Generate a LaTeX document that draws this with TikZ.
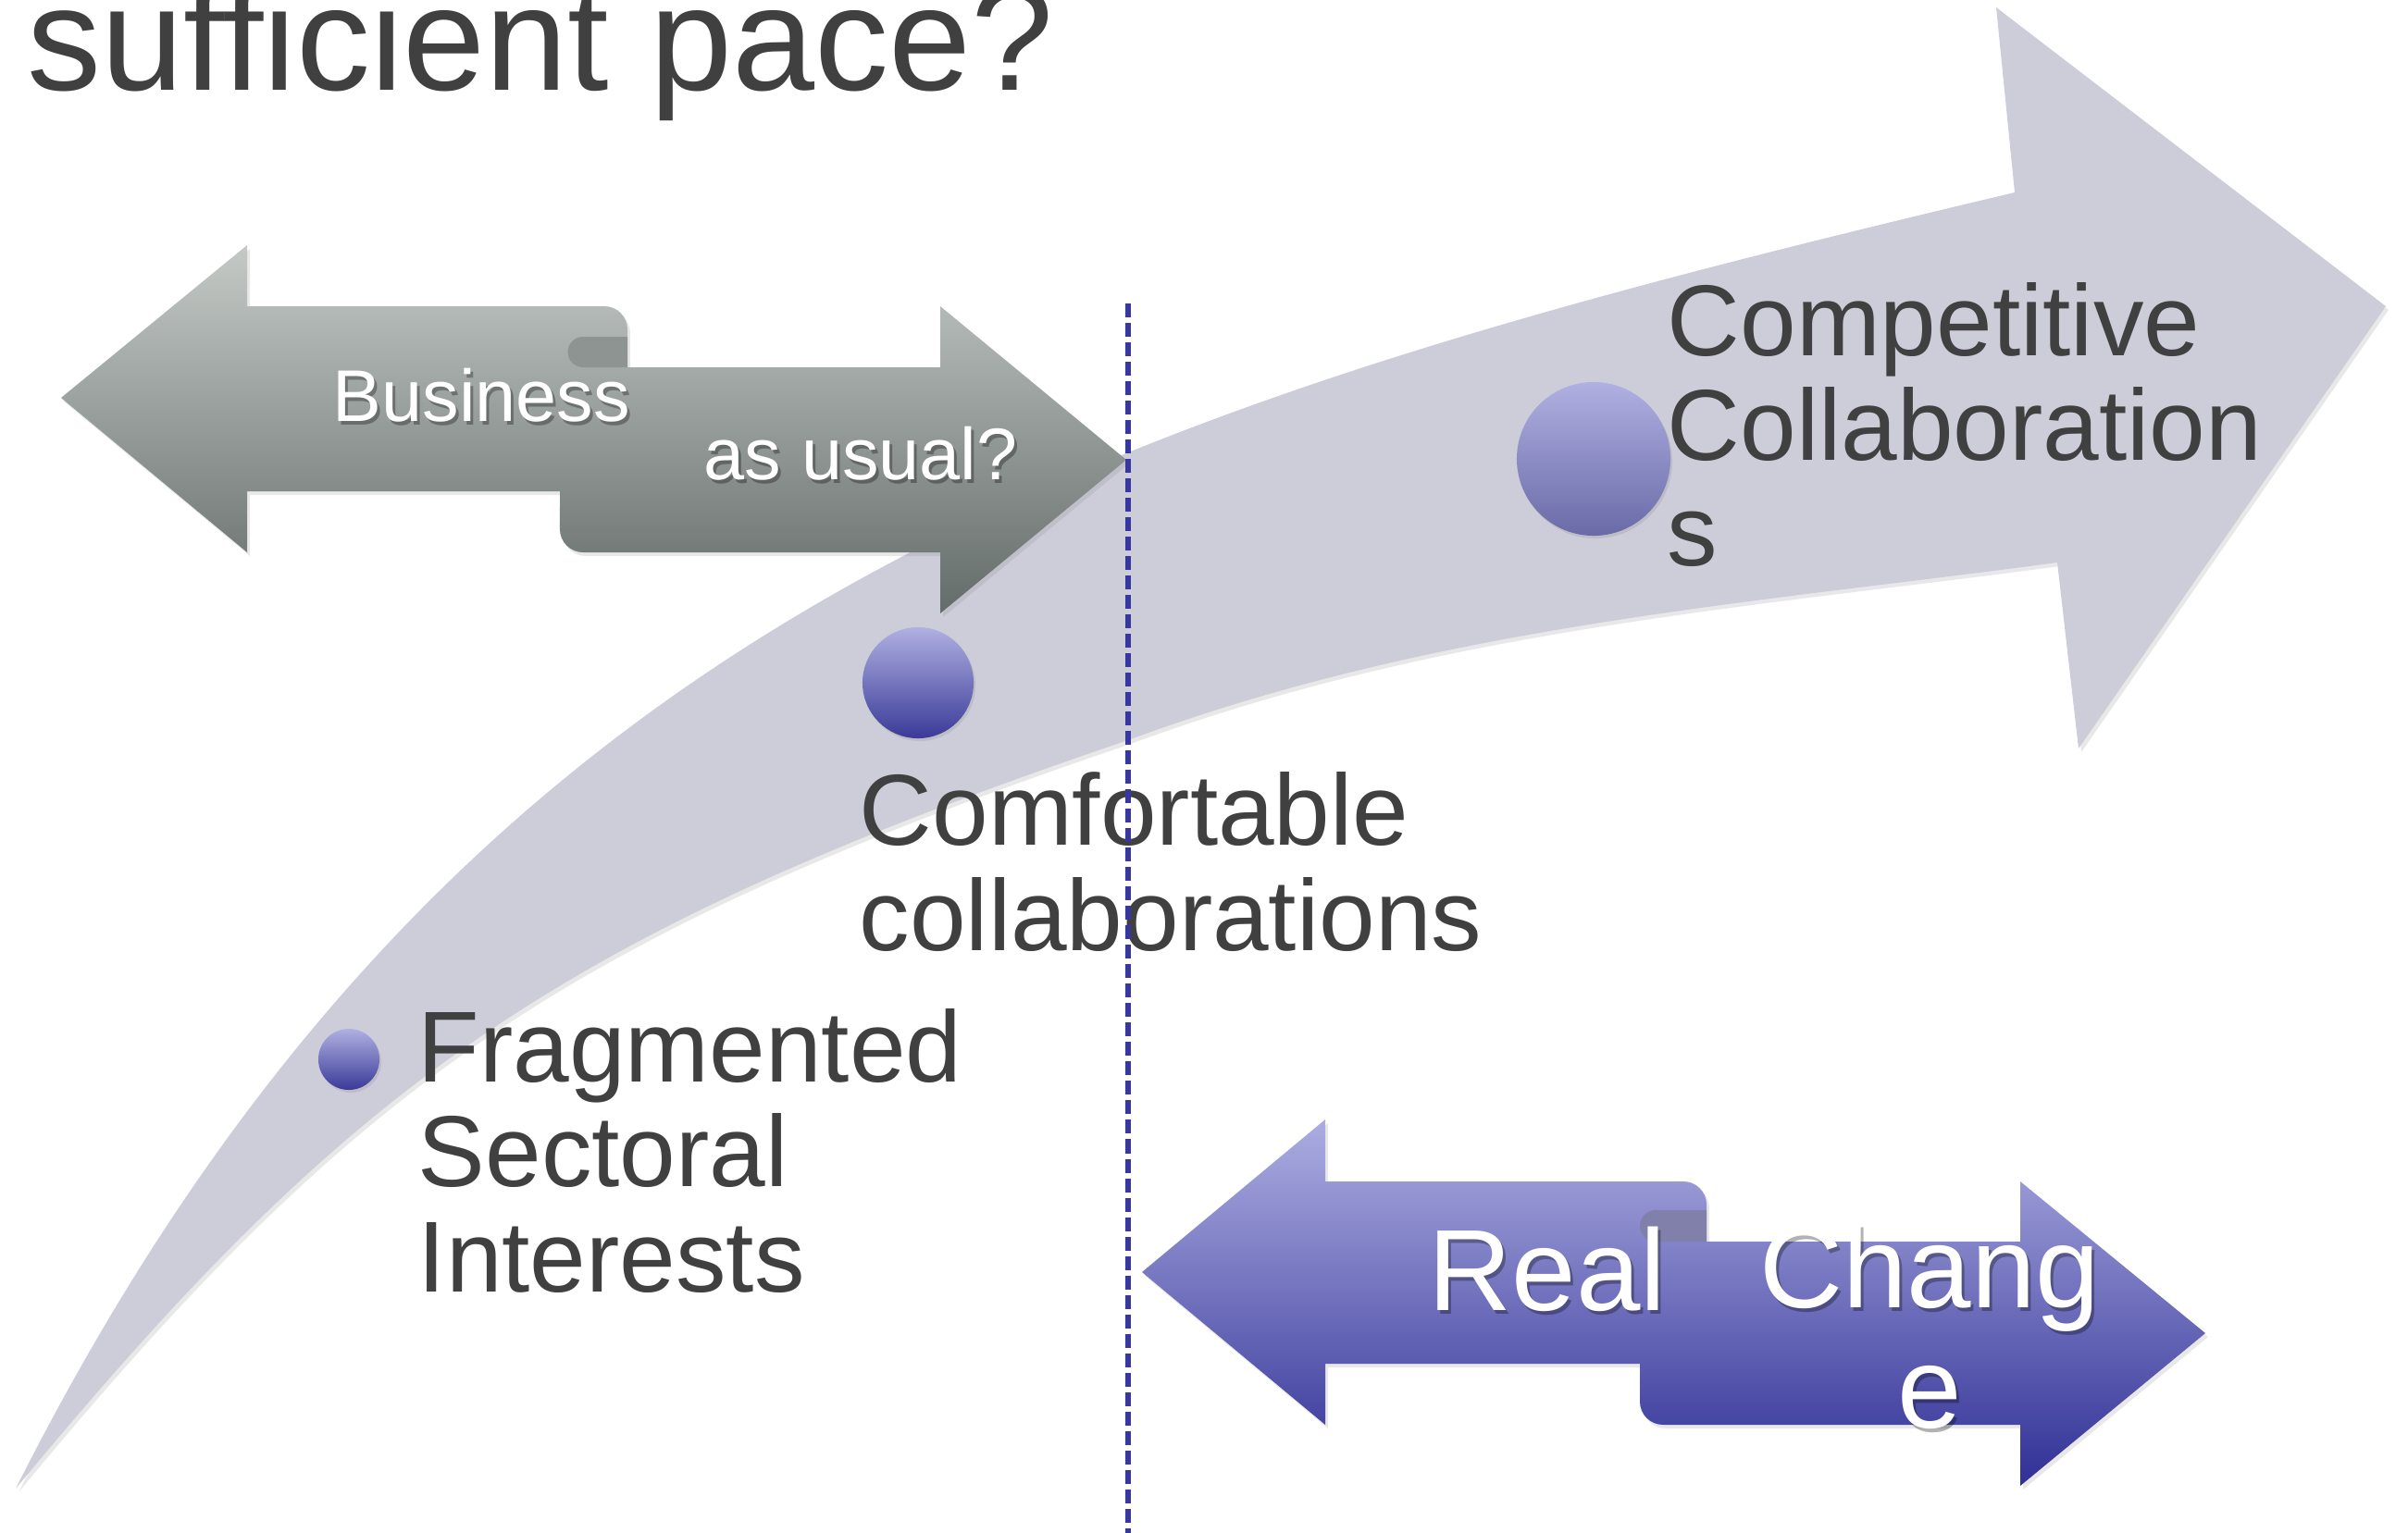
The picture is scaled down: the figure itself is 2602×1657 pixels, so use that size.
\documentclass[tikz,border=0pt]{standalone}
\usepackage{fontspec}
\setmainfont{Liberation Sans}
\usepackage{tikz}
\usetikzlibrary{shadows}

\definecolor{txtgray}{HTML}{404040}
\definecolor{bandgray}{HTML}{CDCDDA}
\definecolor{dashblue}{HTML}{3737A0}
\definecolor{graytop}{HTML}{C4C9C6}
\definecolor{graybot}{HTML}{646C6A}
\definecolor{graycurl}{HTML}{8E9491}
\definecolor{purptop}{HTML}{ADADE2}
\definecolor{purpbot}{HTML}{303096}
\definecolor{purpcurl}{HTML}{8080AA}
\definecolor{dottop}{HTML}{B0B0E2}
\definecolor{dotbot}{HTML}{3A3A98}
\definecolor{dotbotpale}{HTML}{6A6AA8}

\begin{document}
\begin{tikzpicture}[
    x=0.01cm, y=-0.01cm,
    lbl/.style={font=\fontsize{31}{32.2}\selectfont, text=txtgray, align=left, anchor=base west, inner sep=0pt},
    arrtxt/.style={text=white, anchor=base west, inner sep=0pt},
    txtshadow/.style={text=black, text opacity=0.3, xshift=0.03cm, yshift=-0.04cm},
    dot/.style={circle, inner sep=0pt, minimum size=#1, top color=dottop, bottom color=dotbot, drop shadow={opacity=0.2, shadow xshift=0.02cm, shadow yshift=-0.03cm}},
    dot/.default=1.2cm,
    soft/.style={drop shadow={opacity=0.18, shadow xshift=0.03cm, shadow yshift=-0.04cm}},
    dashline/.style={dashblue, line width=1.7pt, dash pattern=on 0.15cm off 0.06cm}
]
\useasboundingbox (0,0) rectangle (2602,1657);

% Curved band arrow
\fill[bandgray, soft] (17,1609) .. controls (500,650) and (1200,440) .. (2177,208)
    -- (2157,8) -- (2578,331) -- (2246,809) -- (2223,608)
    .. controls (1888,653) and (1554,676) .. (1219,800)
    .. controls (600,1010) and (380,1170) .. (17,1609) -- cycle;

% Business as usual arrows
\shade[top color=graytop, bottom color=graybot, soft] (66,430) -- (267,265) -- (267,331) -- (653,331)
    arc[start angle=90, end angle=0, radius=0.25cm] -- (678,397) -- (1016,397) -- (1016,331)
    -- (1217,497) -- (1016,663) -- (1016,597) -- (630,597)
    arc[start angle=270, end angle=180, radius=0.25cm] -- (605,531) -- (267,531) -- (267,597) -- cycle;
\fill[graycurl] (678,364) -- (630,364) arc[start angle=90, end angle=270, radius=0.165cm] -- (678,397) -- cycle;

% Real change arrows
\shade[top color=purptop, bottom color=purpbot, soft] (1234,1375) -- (1432,1210) -- (1432,1277) -- (1819,1277)
    arc[start angle=90, end angle=0, radius=0.25cm] -- (1844,1342) -- (2183,1342) -- (2183,1277)
    -- (2383,1441) -- (2183,1606) -- (2183,1540) -- (1797,1540)
    arc[start angle=270, end angle=180, radius=0.25cm] -- (1772,1474) -- (1432,1474) -- (1432,1540) -- cycle;
\fill[purpcurl] (1844,1308) -- (1789,1308) arc[start angle=90, end angle=270, radius=0.17cm] -- (1844,1342) -- cycle;

% Dots
\node[dot=0.66cm] (dot1) at (377,1145) {};
\node[dot=1.2cm] (dot2) at (992,738) {};
\node[dot=1.66cm, bottom color=dotbotpale] (dot3) at (1722,496) {};

% Title
\node[font=\fontsize{45.5}{54}\selectfont, text=txtgray, anchor=base west, inner sep=0pt] (title) at (29,97) {sufficient pace?};

% Labels (anchored on the last line)
\node[lbl] (frag) at (451,1396) {Fragmented\\Sectoral\\Interests};
\node[lbl] (comf) at (928,1027) {Comfortable\\collaborations};
\node[lbl] (comp) at (1801,611) {Competitive\\Collaboration\\s};

% Arrow texts, shadow first
\foreach \nm/\pos/\sz/\txt in {bus/{(359,455)}/22.5/Business, usual/{(760,518)}/22.5/as usual?, real/{(1543,1416)}/35.5/Real}{
  \node[arrtxt, txtshadow, font=\fontsize{\sz}{36.7}\selectfont] (\nm-s) at \pos {\txt};
  \node[arrtxt, font=\fontsize{\sz}{36.7}\selectfont] (\nm) at \pos {\txt};
}
\node[arrtxt, txtshadow, font=\fontsize{35.5}{36.7}\selectfont, align=center, anchor=base] (chg-s) at (2085,1543) {Chang\\e};
\node[arrtxt, font=\fontsize{35.5}{36.7}\selectfont, align=center, anchor=base] (chg) at (2085,1543) {Chang\\e};

% Divider
\coordinate (divtop) at (1219,328);
\coordinate (divbot) at (1219,1657);
\draw[dashline] (divtop) -- (divbot);
\end{tikzpicture}
\end{document}
